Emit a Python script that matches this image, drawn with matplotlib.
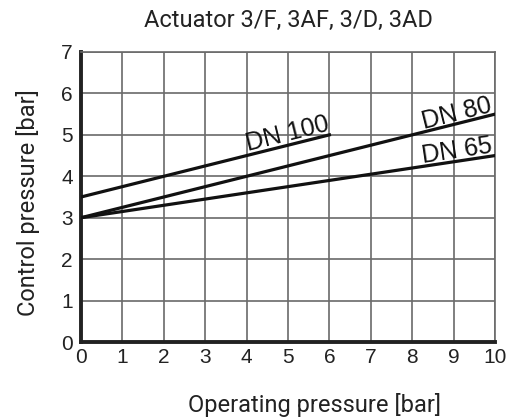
import math
import matplotlib.pyplot as plt

# data: straight lines, start and end points
op_pressure_dn100 = [0, 6]
ctrl_pressure_dn100 = [3.5, 5.0]

op_pressure_dn80 = [0, 10]
ctrl_pressure_dn80 = [3.0, 5.5]

op_pressure_dn65 = [0, 10]
ctrl_pressure_dn65 = [3.0, 4.5]

x_ticks = list(range(0, 11))
y_ticks = list(range(0, 8))

fig = plt.figure(figsize=(5.17, 4.19), dpi=100)
# axes box: x 81..495 px, y 52..342 px
ax = fig.add_axes([81 / 517, 1 - 342 / 419, 414 / 517, 290 / 419])

grid_col = '#6a6a6a'
for x in x_ticks:
    ax.axvline(x, color=grid_col, lw=1.2, zorder=1)
for y in y_ticks:
    ax.axhline(y, color=grid_col, lw=1.2, zorder=1)

ax.plot(op_pressure_dn100, ctrl_pressure_dn100, color='#111111', lw=2.3, zorder=3)
ax.plot(op_pressure_dn80, ctrl_pressure_dn80, color='#111111', lw=2.3, zorder=3)
ax.plot(op_pressure_dn65, ctrl_pressure_dn65, color='#111111', lw=2.3, zorder=3)

ax.set_xlim(0, 10)
ax.set_ylim(0, 7)
ax.set_xticks(x_ticks)
ax.set_yticks(y_ticks)
ax.tick_params(length=0, labelsize=15, colors='#222222')
ax.tick_params(axis='x', pad=4)
ax.tick_params(axis='y', pad=6)
for lab in ax.get_xticklabels() + ax.get_yticklabels():
    lab.set_family('Liberation Sans')

for side in ['top', 'right']:
    ax.spines[side].set_color(grid_col)
    ax.spines[side].set_linewidth(1.2)
for side in ['left', 'bottom']:
    ax.spines[side].set_color('#222222')
    ax.spines[side].set_linewidth(2.8)


# line labels, rotated along the lines
def line_angle(xs, ys):
    p1 = ax.transData.transform((xs[0], ys[0]))
    p2 = ax.transData.transform((xs[-1], ys[-1]))
    return math.degrees(math.atan2(p2[1] - p1[1], p2[0] - p1[0]))


lab_kw = dict(ha='right', va='bottom', rotation_mode='anchor', fontsize=18,
              family='Liberation Sans', color='#111111', zorder=4)
ax.text(6.05, 5.0, 'DN 100', rotation=line_angle(op_pressure_dn100, ctrl_pressure_dn100), **lab_kw)
ax.text(9.98, 5.45, 'DN 80', rotation=line_angle(op_pressure_dn80, ctrl_pressure_dn80), **lab_kw)
ax.text(9.98, 4.45, 'DN 65', rotation=line_angle(op_pressure_dn65, ctrl_pressure_dn65), **lab_kw)

ax.set_title('Actuator 3/F, 3AF, 3/D, 3AD', family='Roboto', fontsize=17,
             color='#222222', pad=18)
ax.set_xlabel('Operating pressure [bar]', family='Roboto', fontsize=17,
              color='#222222')
ax.xaxis.set_label_coords(0.563, -0.176)
ax.set_ylabel('Control pressure [bar]', family='Roboto', fontsize=17,
              color='#222222')
ax.yaxis.set_label_coords(-0.1, 0.48)

fig.savefig('out.png', dpi=100)
